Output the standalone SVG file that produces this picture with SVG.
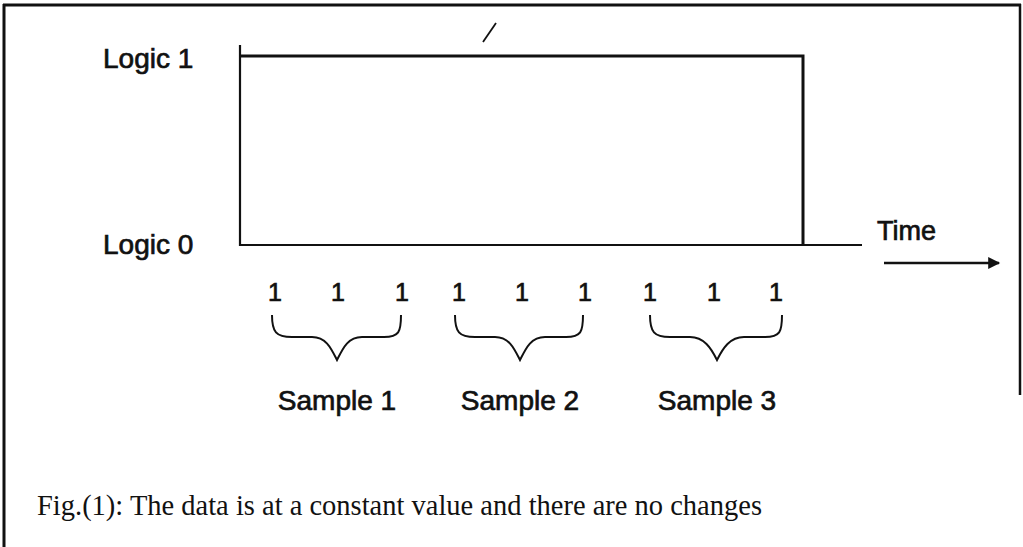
<svg xmlns="http://www.w3.org/2000/svg" width="1023" height="547" viewBox="0 0 1023 547">
  <style>
    .lbl { font-family: "Liberation Sans", Arial, sans-serif; fill: #111; stroke: #111; stroke-width: 0.7; }
    .cap { font-family: "Liberation Serif", "Times New Roman", serif; fill: #111; }
    .br { fill: none; stroke: #111; stroke-width: 2; }
  </style>
  <defs>
    <marker id="head" viewBox="0 0 10 10" refX="9" refY="5" markerWidth="6" markerHeight="5" orient="auto" markerUnits="strokeWidth">
      <path d="M0,0 L10,5 L0,10 Z" fill="#111"/>
    </marker>
  </defs>
  <rect width="1023" height="547" fill="#fff"/>

  <!-- frame -->
  <g id="frame">
    <line x1="3" y1="5" x2="1021" y2="5" stroke="#111" stroke-width="3"/>
    <line x1="4" y1="4" x2="4" y2="547" stroke="#111" stroke-width="3"/>
    <line x1="1020" y1="4" x2="1020" y2="395" stroke="#111" stroke-width="2.5"/>
  </g>

  <!-- level labels -->
  <g id="logic1"><text class="lbl" x="103" y="68" font-size="28">Logic 1</text></g>
  <g id="logic0"><text class="lbl" x="103" y="254" font-size="28">Logic 0</text></g>

  <!-- waveform and time axis -->
  <g id="connectors">
    <path d="M240,45 L240,245 L862,245" fill="none" stroke="#111" stroke-width="2.2"/>
    <path d="M240,56 L803,56 L803,245" fill="none" stroke="#111" stroke-width="3"/>
    <line x1="496" y1="23" x2="483" y2="42" stroke="#111" stroke-width="1.8"/>
    <line x1="884" y1="263" x2="999" y2="263" stroke="#111" stroke-width="2.4" marker-end="url(#head)"/>
  </g>
  <g id="time"><text class="lbl" x="877" y="240" font-size="27">Time</text></g>

  <!-- sampled bits -->
  <g id="bits" class="lbl" font-size="25" text-anchor="middle">
    <text x="275" y="301">1</text>
    <text x="338" y="301">1</text>
    <text x="402" y="301">1</text>
    <text x="459" y="301">1</text>
    <text x="522" y="301">1</text>
    <text x="585" y="301">1</text>
    <text x="650" y="301">1</text>
    <text x="714" y="301">1</text>
    <text x="776" y="301">1</text>
  </g>

  <!-- sample groups -->
  <g id="sample1">
    <path class="br" d="M272,315 C272,332 276,337 292,337 L312,337 C326,337 331,348 337,360 C343,348 348,337 362,337 L384,337 C399,337 401,332 401,315"/>
    <text class="lbl" x="337" y="410" font-size="28" text-anchor="middle">Sample 1</text>
  </g>
  <g id="sample2">
    <path class="br" d="M455,315 C455,332 459,337 475,337 L495,337 C509,337 514,348 520,360 C526,348 531,337 545,337 L566,337 C581,337 583,332 583,315"/>
    <text class="lbl" x="520" y="410" font-size="28" text-anchor="middle">Sample 2</text>
  </g>
  <g id="sample3">
    <path class="br" d="M650,315 C650,332 654,337 670,337 L690,337 C704,337 711,348 717,360 C723,348 730,337 744,337 L765,337 C780,337 782,332 782,315"/>
    <text class="lbl" x="717" y="410" font-size="28" text-anchor="middle">Sample 3</text>
  </g>

  <!-- caption -->
  <g id="caption">
    <text class="cap" x="37" y="515" font-size="29" textLength="725" lengthAdjust="spacingAndGlyphs">Fig.(1): The data is at a constant value and there are no changes</text>
  </g>
</svg>
